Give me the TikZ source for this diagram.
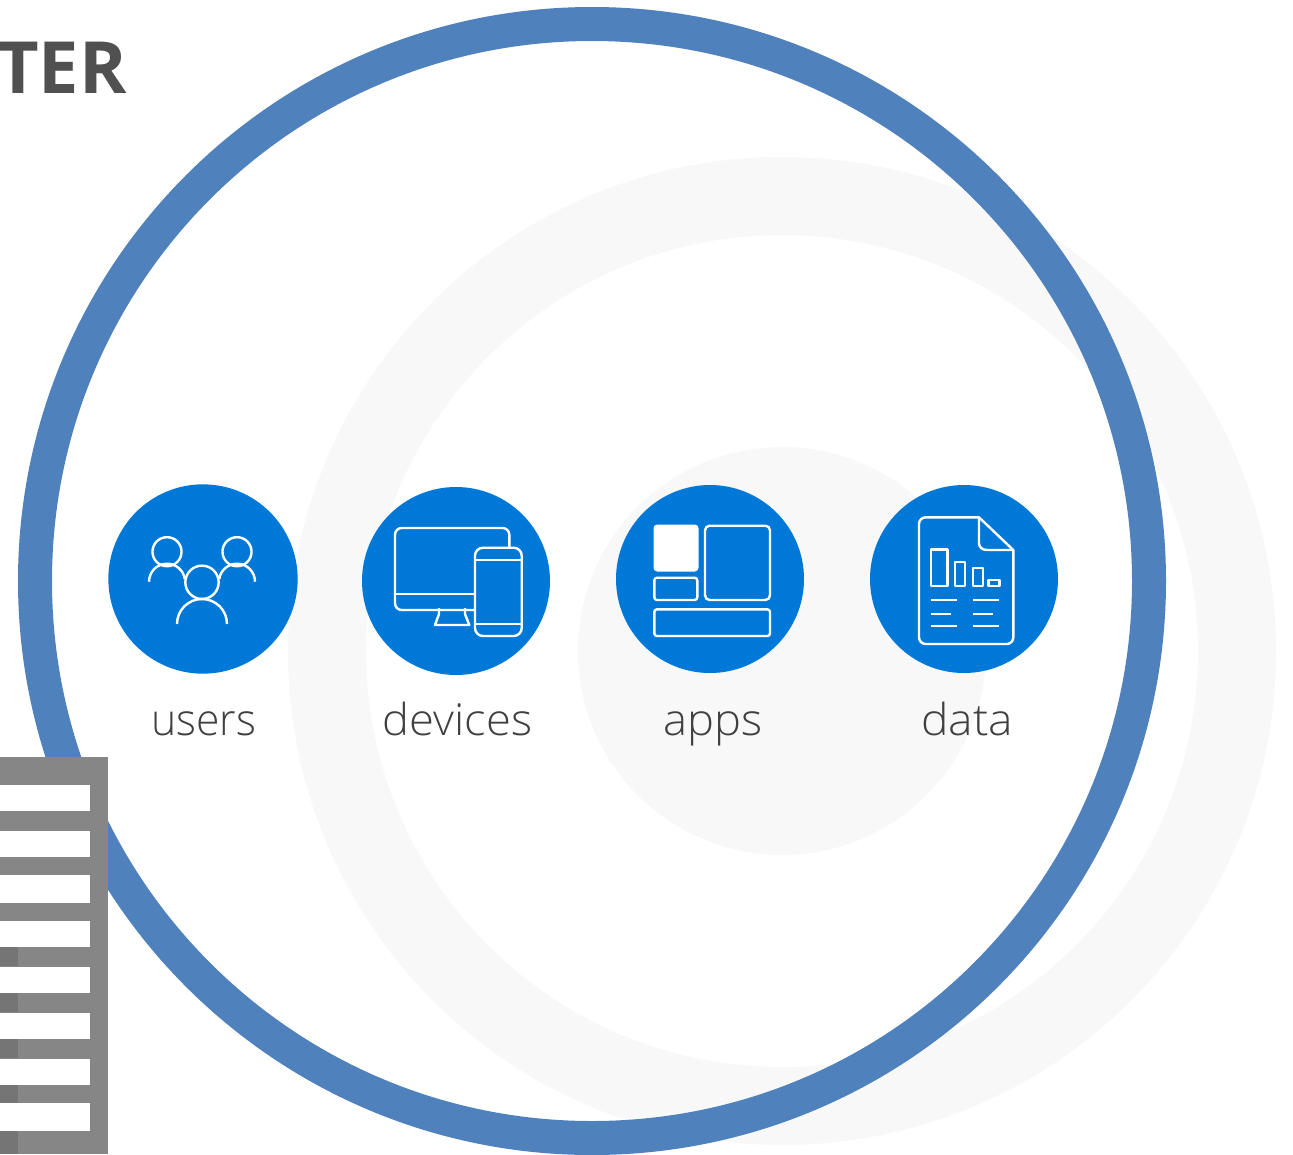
\documentclass[tikz,border=0pt]{standalone}
\usepackage{fontspec}
\setmainfont{Open Sans}
\newfontfamily\lightfont{Open Sans Light}
\definecolor{ringgray}{HTML}{F8F8F8}
\definecolor{bigblue}{HTML}{4F81BD}
\definecolor{iconblue}{HTML}{0078D7}
\definecolor{rackgray}{HTML}{868686}
\definecolor{rackdark}{HTML}{757575}
\definecolor{labelgray}{HTML}{404040}
\definecolor{titlegray}{HTML}{505050}
\tikzset{
  disc/.style={circle,fill=iconblue,draw=none,minimum size=#1,inner sep=0pt},
  iconline/.style={draw=white,line width=1.8pt,line join=round},
  iconfill/.style={fill=white,draw=white,line width=1.5pt,rounded corners=2.2pt},
  itemlabel/.style={anchor=base,text=labelgray,inner sep=0pt,font=\lightfont\fontsize{33}{40}\selectfont},
  slot/.style={fill=white,draw=none},
  rackcell/.style={fill=rackdark,draw=none}
}
\begin{document}
\begin{tikzpicture}[x=0.75pt,y=-0.75pt]
\useasboundingbox (0,0) rectangle (1293,1154);
\clip (0,0) rectangle (1293,1154);
\fill[white] (0,0) rectangle (1293,1154);
% pale rings
\fill[ringgray,even odd rule] (782,651) circle [radius=370.5pt] (782,651) circle [radius=312pt];
\fill[ringgray] (782,651) circle [radius=153pt];
% big ring
\draw[bigblue,line width=25.5pt] (592,581) circle [radius=417.75pt];
% title
\node[anchor=base east,inner sep=0pt,text=titlegray,font=\bfseries\fontsize{54}{60}\selectfont] (title) at (127,93) {TER};
% discs
\node[disc=142pt] (users) at (203,579) {};
\node[disc=141pt] (devices) at (456,581) {};
\node[disc=141pt] (apps) at (710,579) {};
\node[disc=141pt] (data) at (964,579) {};
% labels
\node[itemlabel,xscale=0.97] (lusers) at (203.5,735) {users};
\node[itemlabel,xscale=1.03] (ldevices) at (457.5,735) {devices};
\node[itemlabel,xscale=1.03] (lapps) at (713,735) {apps};
\node[itemlabel,xscale=1.05] (ldata) at (967,735) {data};
% users icon
\draw[iconline] (167,551.7) circle [radius=10.9pt];
\draw[iconline] (237,551.7) circle [radius=10.9pt];
\draw[iconline] (202,582.3) circle [radius=12.5pt];
\draw[iconline] (149,581.7) arc [start angle=180,delta angle=-172,radius=13.5pt];
\draw[iconline] (255,581.7) arc [start angle=0,delta angle=172,radius=13.5pt];
\draw[iconline] (177,624) arc [start angle=180,delta angle=-180,radius=18.75pt];
% devices icon
\draw[iconline,rounded corners=5pt] (475,610) -- (395,610) -- (395,528) -- (509.3,528) -- (509.3,548);
\draw[iconline] (395,594) -- (475,594);
\draw[iconline] (439,608) -- (439,614) -- (435,625) -- (469.3,625) -- (465,614) -- (465,608);
\draw[iconline,rounded corners=6pt] (475,547.7) rectangle (521.7,636);
\draw[iconline] (475,560) -- (521.7,560) (475,624) -- (521.7,624);
% apps icon
\path[iconfill] (654.5,525.5) rectangle (697.5,570.5);
\draw[iconline,rounded corners=3.5pt] (705,525.7) rectangle (770,600);
\draw[iconline,rounded corners=2pt] (654.3,577.7) rectangle (697.3,600);
\draw[iconline,rounded corners=2pt] (654.3,609.3) rectangle (770,636);
% data icon
\draw[iconline,rounded corners=5pt] (979,517.3) -- (919,517.3) -- (919,644) -- (1013.3,644) -- (1013.3,550);
\draw[iconline] (979,517.3) -- (1013.3,550) -- (987,550) .. controls (982,550) and (979,547) .. (979,543) -- cycle;
\draw[iconline] (930.7,549.3) rectangle (947.3,586);
\draw[iconline] (955,561.7) rectangle (965,586);
\draw[iconline] (972.7,567.7) rectangle (982.7,586);
\draw[iconline] (988.3,580) rectangle (999.3,586);
\draw[iconline] (931,599.7) -- (956.7,599.7) (973.3,599.7) -- (999,599.7);
\draw[iconline] (931,614) -- (950.7,614) (973.3,614) -- (992.7,614);
\draw[iconline] (931,625.7) -- (956.7,625.7) (973.3,625.7) -- (999,625.7);
% rack
\fill[rackgray] (0,757) rectangle (108,1154);
\foreach \a/\b in {785/811,831/857,875/903,921/947,967/993,1013/1039,1059/1085,1103/1131}
  \fill[slot] (0,\a) rectangle (90,\b);
\foreach \a/\b in {947/966,993/1012,1039/1058,1085/1103,1131/1154}
  \fill[rackcell] (0,\a) rectangle (18,\b);
\end{tikzpicture}
\end{document}
